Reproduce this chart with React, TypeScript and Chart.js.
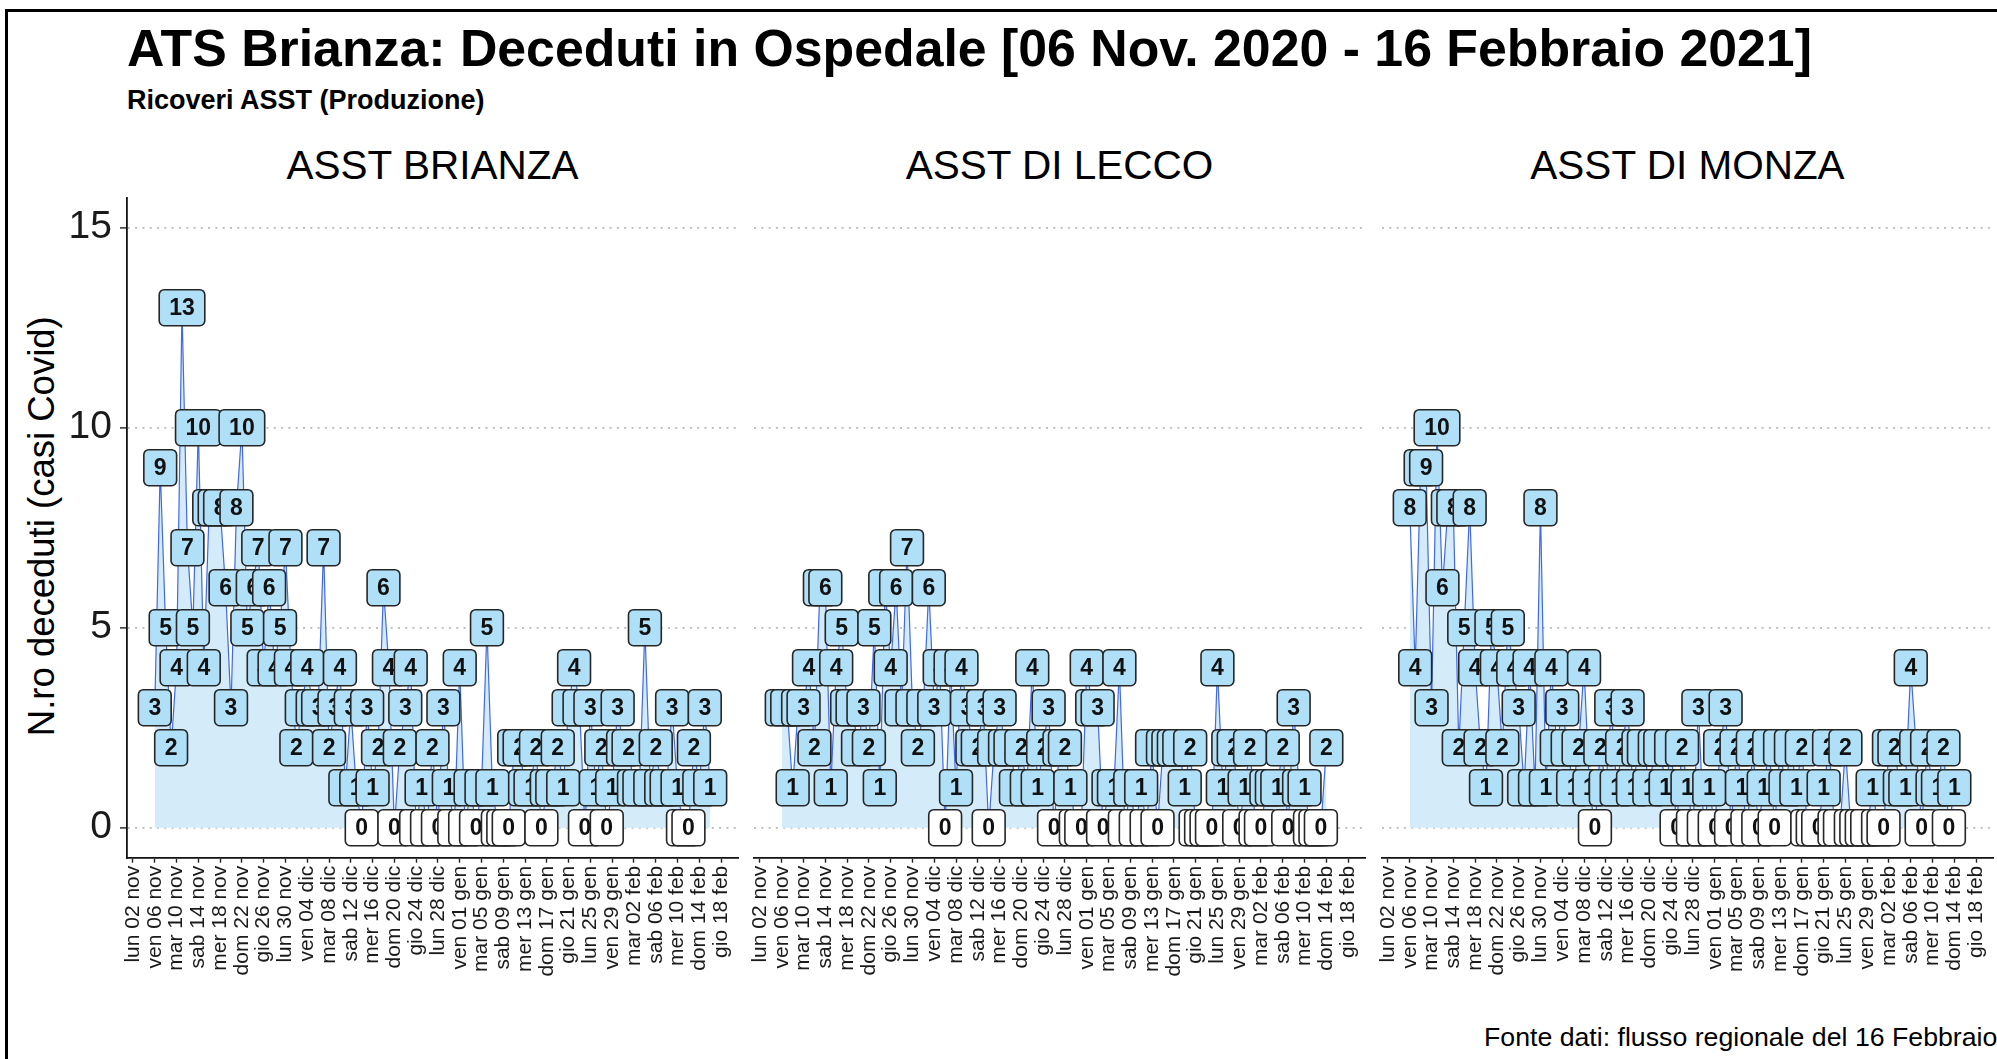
import React, { useEffect, useRef } from "react";
import { Chart, registerables } from "chart.js";

Chart.register(...registerables);

// ---------- DATA ----------
// x = day index counted from ven 06 nov 2020 (day 0)
const tickDays = [-4, 0, 4, 8, 12, 16, 20, 24, 28, 32, 36, 40, 44, 48, 52, 56, 60, 64, 68, 72, 76, 80, 84, 88, 92, 96, 100, 104];
const tickLabels = [
  "lun 02 nov", "ven 06 nov", "mar 10 nov", "sab 14 nov", "mer 18 nov", "dom 22 nov", "gio 26 nov",
  "lun 30 nov", "ven 04 dic", "mar 08 dic", "sab 12 dic", "mer 16 dic", "dom 20 dic", "gio 24 dic",
  "lun 28 dic", "ven 01 gen", "mar 05 gen", "sab 09 gen", "mer 13 gen", "dom 17 gen", "gio 21 gen",
  "lun 25 gen", "ven 29 gen", "mar 02 feb", "sab 06 feb", "mer 10 feb", "dom 14 feb", "gio 18 feb",
];
const yTicks = [0, 5, 10, 15];

const brianza = [
  3, 9, 5, 2, 4, 13, 7, 5, 10, 4,
  8, 8, 8, 6, 3, 8, 10, 5, 6, 7,
  4, 6, 4, 5, 7, 4, 2, 3, 4, 3,
  3, 7, 2, 3, 4, 1, 3, 1, 0, 3,
  1, 2, 6, 4, 0, 2, 3, 4, 0, 1,
  0, 2, 0, 3, 1, 0, 4, 0, 1, 0,
  1, 5, 1, 0, 0, 0, 2, 2, 1, 1,
  2, 0, 1, 1, 2, 1, 3, 4, 3, 0,
  3, 1, 2, 0, 1, 3, 2, 2, 1, 1,
  5, 1, 2, 1, 1, 3, 1, 0, 0, 2,
  1, 3, 1,
];
const lecco = [
  3, 3, 1, 3, 3, 4, 2, 6, 6, 1,
  4, 5, 3, 3, 2, 3, 2, 5, 1, 6,
  4, 6, 3, 7, 3, 2, 3, 6, 3, 4,
  0, 4, 1, 4, 3, 2, 2, 3, 0, 2,
  3, 2, 2, 1, 2, 1, 4, 1, 2, 3,
  0, 2, 2, 1, 0, 0, 4, 3, 3, 0,
  1, 1, 4, 0, 1, 0, 1, 0, 2, 0,
  2, 2, 2, 2, 1, 2, 0, 0, 0, 0,
  4, 1, 2, 2, 0, 1, 2, 0, 0, 1,
  1, 1, 2, 0, 3, 1, 1, 0, 0, 0,
  2,
];
const monza = [
  8, 4, 9, 9, 3, 10, 6, 8, 8, 2,
  5, 8, 4, 2, 1, 5, 4, 2, 5, 4,
  3, 1, 4, 1, 8, 1, 4, 2, 3, 2,
  1, 2, 4, 1, 0, 2, 1, 3, 1, 2,
  3, 1, 2, 2, 1, 2, 2, 1, 2, 0,
  2, 1, 0, 3, 0, 1, 0, 2, 3, 0,
  2, 1, 0, 2, 0, 1, 2, 0, 2, 1,
  2, 1, 2, 0, 0, 0, 1, 2, 0, 0,
  2, 0, 0, 0, 0, 1, 0, 0, 2, 2,
  1, 1, 4, 2, 0, 2, 1, 1, 2, 0,
  1,
];
const panelTitles = ["ASST BRIANZA", "ASST DI LECCO", "ASST DI MONZA"];

// ---------- LAYOUT / STYLE ----------
const FONT = '"Liberation Sans", Arial, Helvetica, sans-serif';
const X_MIN = -5.1;
const X_MAX = 107.1;
const PLOT_TOP = 197.7;
const PLOT_BOTTOM = 857.7;
const CANVAS_TOP = 180;
const CANVAS_H = 820;

const LINE_COLOR = "#4169e1";
const AREA_COLOR = "#d4ebfa";
const BOX_COLOR = "#b0e0f8";

const labelPlugin = {
  id: "valueLabels",
  afterDatasetsDraw(chart: any) {
    const ctx = chart.ctx;
    const meta = chart.getDatasetMeta(0);
    const ds = chart.data.datasets[0];
    ctx.save();
    ctx.font = `bold 23px ${FONT}`;
    ctx.textAlign = "center";
    ctx.textBaseline = "middle";
    meta.data.forEach((el: any, i: number) => {
      const v = ds.data[i].y;
      if (v === null || v === undefined) return;
      const text = String(v);
      const w = ctx.measureText(text).width + 20;
      const h = 36;
      const x = el.x;
      const y = el.y;
      ctx.beginPath();
      ctx.roundRect(x - w / 2, y - h / 2, w, h, 5);
      ctx.fillStyle = v === 0 ? "#ffffff" : BOX_COLOR;
      ctx.fill();
      ctx.lineWidth = 1.6;
      ctx.strokeStyle = "#262626";
      ctx.stroke();
      ctx.fillStyle = "#111111";
      ctx.fillText(text, x, y + 1);
    });
    ctx.restore();
  },
};

type PanelProps = {
  values: number[];
  canvasLeft: number;
  canvasWidth: number;
  padLeft: number;
  padRight: number;
  showY: boolean;
};

function Panel({ values, canvasLeft, canvasWidth, padLeft, padRight, showY }: PanelProps) {
  const ref = useRef<HTMLCanvasElement | null>(null);
  useEffect(() => {
    if (!ref.current) return;
    const chart = new Chart(ref.current, {
      type: "line",
      data: {
        datasets: [
          {
            data: values.map((v, i) => ({ x: i, y: v })),
            borderColor: LINE_COLOR,
            borderWidth: 1.2,
            backgroundColor: AREA_COLOR,
            fill: "origin",
            pointRadius: 0,
            tension: 0,
          },
        ],
      },
      options: {
        animation: false,
        responsive: false,
        maintainAspectRatio: false,
        devicePixelRatio: 1,
        events: [],
        layout: { padding: { left: padLeft, right: padRight, top: PLOT_TOP - CANVAS_TOP, bottom: 0 } },
        plugins: { legend: { display: false }, tooltip: { enabled: false }, title: { display: false } },
        scales: {
          x: {
            type: "linear",
            min: X_MIN,
            max: X_MAX,
            afterBuildTicks: (s: any) => {
              s.ticks = tickDays.map((v) => ({ value: v }));
            },
            afterFit: (s: any) => {
              s.height = CANVAS_TOP + CANVAS_H - PLOT_BOTTOM;
              s.paddingLeft = 0;
              s.paddingRight = 0;
            },
            ticks: {
              autoSkip: false,
              minRotation: 90,
              maxRotation: 90,
              padding: 3,
              color: "#1a1a1a",
              font: { family: FONT, size: 21 },
              callback: (_v: any, i: number) => tickLabels[i],
            },
            grid: { drawOnChartArea: false, drawTicks: true, tickLength: 5, tickColor: "#222", tickWidth: 1.4 },
            border: { display: true, color: "#111", width: 1.8 },
          },
          y: {
            type: "linear",
            min: -0.75,
            max: 15.75,
            afterBuildTicks: (s: any) => {
              s.ticks = yTicks.map((v) => ({ value: v }));
            },
            afterFit: (s: any) => {
              s.width = showY ? 127 : 0;
              s.paddingTop = 0;
              s.paddingBottom = 0;
            },
            ticks: { display: showY, padding: 8, color: "#1a1a1a", font: { family: FONT, size: 39 } },
            grid: {
              color: "#b9b9b9",
              lineWidth: 1.8,
              drawTicks: showY,
              tickLength: 7,
              tickColor: "#222",
              tickWidth: 1.4,
              tickBorderDash: [],
            },
            border: { display: showY, color: "#111", width: 1.8, dash: [2, 5.3] },
          },
        },
      },
      plugins: [labelPlugin],
    } as any);
    return () => chart.destroy();
  }, []);
  return (
    <canvas
      ref={ref}
      width={canvasWidth}
      height={CANVAS_H}
      style={{ position: "absolute", left: canvasLeft, top: CANVAS_TOP, width: canvasWidth, height: CANVAS_H }}
    />
  );
}

const panels = [
  { values: brianza, canvasLeft: 0, canvasWidth: 748, padLeft: 0, padRight: 10, showY: true, center: 432.5 },
  { values: lecco, canvasLeft: 734, canvasWidth: 641, padLeft: 20, padRight: 10, showY: false, center: 1059.5 },
  { values: monza, canvasLeft: 1362, canvasWidth: 635, padLeft: 20, padRight: 4, showY: false, center: 1687.5 },
];

export default function App() {
  return (
    <div
      style={{
        position: "fixed",
        left: 0,
        top: 0,
        width: 1997,
        height: 1059,
        overflow: "hidden",
        background: "#ffffff",
        fontFamily: FONT,
        color: "#000",
      }}
    >
      <div
        style={{
          position: "absolute",
          left: 5,
          top: 9,
          width: 2100,
          height: 1200,
          borderLeft: "3px solid #000",
          borderTop: "3px solid #000",
        }}
      />
      <div
        style={{
          position: "absolute",
          left: 127,
          top: 23,
          fontSize: 51.8,
          fontWeight: "bold",
          lineHeight: 1,
          whiteSpace: "nowrap",
        }}
      >
        ATS Brianza: Deceduti in Ospedale [06 Nov. 2020 - 16 Febbraio 2021]
      </div>
      <div
        style={{
          position: "absolute",
          left: 127,
          top: 87,
          fontSize: 27,
          fontWeight: "bold",
          lineHeight: 1,
          whiteSpace: "nowrap",
        }}
      >
        Ricoveri ASST (Produzione)
      </div>
      {panels.map((p, i) => (
        <div
          key={"t" + i}
          style={{
            position: "absolute",
            left: p.center - 300,
            width: 600,
            top: 145,
            fontSize: 40.5,
            lineHeight: 1,
            textAlign: "center",
            whiteSpace: "nowrap",
          }}
        >
          {panelTitles[i]}
        </div>
      ))}
      <div
        style={{
          position: "absolute",
          left: 42 - 300,
          width: 600,
          top: 526 - 18.25,
          height: 36.5,
          fontSize: 36.5,
          lineHeight: "36.5px",
          textAlign: "center",
          whiteSpace: "nowrap",
          transform: "rotate(-90deg)",
          transformOrigin: "50% 50%",
        }}
      >
        N.ro deceduti (casi Covid)
      </div>
      {panels.map((p, i) => (
        <Panel
          key={"p" + i}
          values={p.values}
          canvasLeft={p.canvasLeft}
          canvasWidth={p.canvasWidth}
          padLeft={p.padLeft}
          padRight={p.padRight}
          showY={p.showY}
        />
      ))}
      <div
        style={{
          position: "absolute",
          left: 1484,
          top: 1024,
          fontSize: 26.7,
          lineHeight: 1,
          whiteSpace: "nowrap",
        }}
      >
        Fonte dati: flusso regionale del 16 Febbraio
      </div>
    </div>
  );
}
